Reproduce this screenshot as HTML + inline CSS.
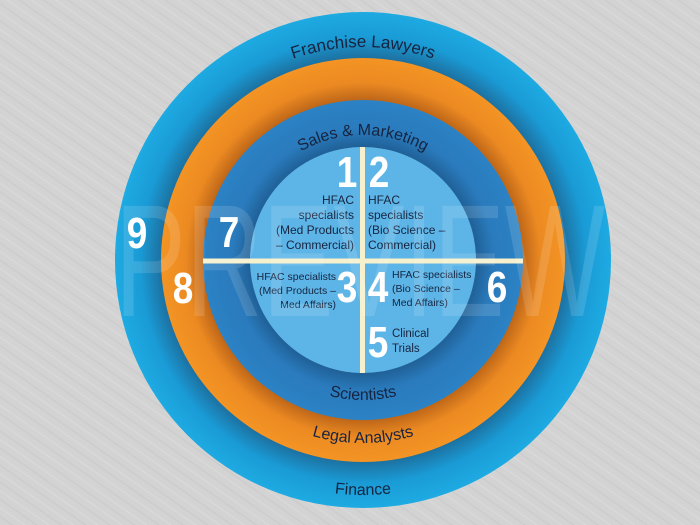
<!DOCTYPE html>
<html><head><meta charset="utf-8"><style>
html,body{margin:0;padding:0;background:#d2d2d2;}
svg{display:block}
</style></head><body>
<svg width="700" height="525" viewBox="0 0 700 525" xmlns="http://www.w3.org/2000/svg" font-family="'Liberation Sans', sans-serif">
<defs>
<pattern id="tex" width="14" height="14" patternUnits="userSpaceOnUse" patternTransform="rotate(35)">
<rect width="14" height="14" fill="#d3d3d3"/>
<line x1="0" y1="3" x2="14" y2="3" stroke="#cbcbcb" stroke-width="1.2"/>
<line x1="0" y1="10" x2="14" y2="10" stroke="#dadada" stroke-width="1.2"/>
</pattern>
<radialGradient id="g1" cx="363" cy="260" r="248" gradientUnits="userSpaceOnUse">
<stop offset="0.81" stop-color="#1d6f9e"/><stop offset="0.9" stop-color="#1a9bd6"/><stop offset="1" stop-color="#1eaae2"/>
</radialGradient>
<radialGradient id="g2" cx="363" cy="260" r="202" gradientUnits="userSpaceOnUse">
<stop offset="0.78" stop-color="#b86218"/><stop offset="0.88" stop-color="#ec8a22"/><stop offset="1" stop-color="#f39424"/>
</radialGradient>
<radialGradient id="g3" cx="363" cy="260" r="160" gradientUnits="userSpaceOnUse">
<stop offset="0.7" stop-color="#1f5f95"/><stop offset="0.82" stop-color="#2a7bbd"/><stop offset="1" stop-color="#2b82c4"/>
</radialGradient>
<path id="pFL" d="M150,260 A213,213 0 0 1 576,260"/>
<path id="pSM" d="M238,260 A125,125 0 0 1 488,260"/>
<path id="pSc" d="M223,260 A140,140 0 0 0 503,260"/>
<path id="pLA" d="M180,260 A183,183 0 0 0 546,260"/>
<path id="pFi" d="M128,260 A235,235 0 0 0 598,260"/>
</defs>
<rect width="700" height="525" fill="url(#tex)"/>
<circle cx="363" cy="260" r="248" fill="url(#g1)"/>
<circle cx="363" cy="260" r="202" fill="url(#g2)"/>
<circle cx="363" cy="260" r="160" fill="url(#g3)"/>
<circle cx="363" cy="260" r="113" fill="#5db5e7"/>
<rect x="360" y="147" width="5" height="226" fill="#f6f1cc"/>
<rect x="203" y="258.5" width="320" height="5" fill="#f6f1cc"/>

<g fill="#16243f" font-size="17">
<text text-anchor="middle"><textPath href="#pFL" startOffset="50%">Franchise Lawyers</textPath></text>
<text text-anchor="middle" font-size="16"><textPath href="#pSM" startOffset="50%">Sales &amp; Marketing</textPath></text>
<text text-anchor="middle" font-size="16"><textPath href="#pSc" startOffset="50%">Scientists</textPath></text>
<text text-anchor="middle" font-size="16"><textPath href="#pLA" startOffset="50%">Legal Analysts</textPath></text>
<text text-anchor="middle" font-size="16"><textPath href="#pFi" startOffset="50%">Finance</textPath></text>
</g>

<g fill="#16243f" font-size="12">
<text text-anchor="end" x="354" y="204">HFAC</text>
<text text-anchor="end" x="354" y="219">specialists</text>
<text text-anchor="end" x="354" y="234">(Med Products</text>
<text text-anchor="end" x="354" y="249">– Commercial)</text>
<text x="368" y="204">HFAC</text>
<text x="368" y="219">specialists</text>
<text x="368" y="234">(Bio Science –</text>
<text x="368" y="249">Commercial)</text>
</g>
<g fill="#16243f" font-size="10.5">
<text text-anchor="end" x="336" y="280">HFAC specialists</text>
<text text-anchor="end" x="336" y="294">(Med Products –</text>
<text text-anchor="end" x="336" y="308">Med Affairs)</text>
<text x="392" y="278">HFAC specialists</text>
<text x="392" y="292">(Bio Science –</text>
<text x="392" y="306">Med Affairs)</text>
<text x="392" y="337" font-size="11.5">Clinical</text>
<text x="392" y="352" font-size="11.5">Trials</text>
</g>

<g fill="#ffffff" font-weight="bold" font-size="44" text-anchor="middle">
<text transform="translate(347,187) scale(0.84,1)">1</text>
<text transform="translate(379,187) scale(0.84,1)">2</text>
<text transform="translate(347,302) scale(0.84,1)">3</text>
<text transform="translate(378,302) scale(0.84,1)">4</text>
<text transform="translate(378,357) scale(0.84,1)">5</text>
<text transform="translate(497,302) scale(0.84,1)">6</text>
<text transform="translate(229,247) scale(0.84,1)">7</text>
<text transform="translate(183,303) scale(0.84,1)">8</text>
<text transform="translate(137,248) scale(0.84,1)">9</text>
</g>

<text x="115" y="316" font-size="160" fill="#ffffff" fill-opacity="0.13" textLength="490" lengthAdjust="spacingAndGlyphs">PREVIEW</text>
</svg>
</body></html>
